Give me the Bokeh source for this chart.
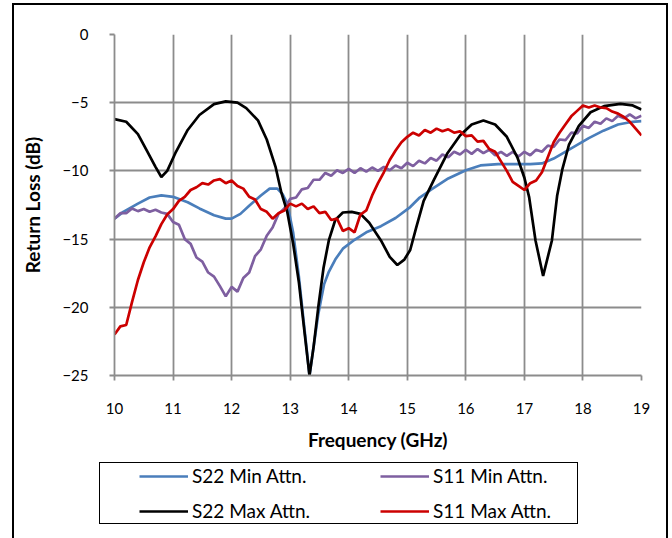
from bokeh.plotting import figure
from bokeh.layouts import column
from bokeh.models import Range1d, Legend, LegendItem, FixedTicker, InlineStyleSheet
from bokeh.embed import file_html
from bokeh.resources import INLINE

# ---------------- data ----------------
x_ticks = [10, 11, 12, 13, 14, 15, 16, 17, 18, 19]
y_ticks = [-25, -20, -15, -10, -5, 0]

freq_s22_min = [10.0, 10.15, 10.4, 10.6, 10.8, 11.0, 11.25, 11.45, 11.7, 11.9, 12.0, 12.15, 12.3, 12.5,
                12.65, 12.78, 12.87, 12.95, 13.05, 13.15, 13.25, 13.33, 13.4, 13.48, 13.53, 13.58, 13.66,
                13.77, 13.9, 14.1, 14.3, 14.55, 14.8, 15.05, 15.2, 15.4, 15.7, 16.0, 16.25, 16.55, 16.8,
                17.1, 17.3, 17.5, 17.8, 18.1, 18.35, 18.6, 18.85, 19.0]
s22_min = [-13.5, -13.0, -12.4, -11.95, -11.8, -11.9, -12.3, -12.75, -13.25, -13.5, -13.5, -13.15, -12.55,
           -11.8, -11.3, -11.3, -11.7, -12.4, -14.5, -17.8, -21.8, -25.0, -22.9, -20.5, -19.4, -18.3, -17.4,
           -16.5, -15.7, -15.05, -14.5, -14.05, -13.45, -12.65, -12.0, -11.4, -10.55, -9.95, -9.6, -9.5,
           -9.5, -9.5, -9.45, -9.1, -8.35, -7.6, -7.05, -6.6, -6.4, -6.35]

freq_s22_max = [10.0, 10.2, 10.4, 10.55, 10.7, 10.8, 10.9, 11.05, 11.25, 11.45, 11.7, 11.9, 12.1, 12.25,
                12.45, 12.6, 12.75, 12.85, 12.95, 13.05, 13.15, 13.25, 13.33, 13.4, 13.48, 13.57, 13.66,
                13.77, 13.9, 14.05, 14.2, 14.35, 14.55, 14.7, 14.83, 14.95, 15.05, 15.15, 15.28, 15.45,
                15.68, 15.9, 16.1, 16.3, 16.5, 16.7, 16.88, 17.0, 17.08, 17.19, 17.32, 17.47, 17.56, 17.65,
                17.76, 17.93, 18.13, 18.36, 18.64, 18.85, 19.0]
s22_max = [-6.2, -6.4, -7.3, -8.5, -9.7, -10.45, -10.0, -8.6, -7.0, -5.9, -5.1, -4.9, -5.0, -5.4,
           -6.3, -7.7, -9.7, -11.6, -13.0, -15.3, -18.2, -22.0, -25.0, -22.9, -20.0, -17.1, -15.1,
           -13.6, -13.05, -13.0, -13.15, -13.8, -15.1, -16.3, -16.9, -16.5, -15.8, -14.2, -12.2, -10.7,
           -8.75, -7.4, -6.6, -6.3, -6.6, -7.5, -9.0, -10.5, -11.9, -15.1, -17.7, -15.1, -11.8, -9.85,
           -8.1, -6.7, -5.7, -5.25, -5.08, -5.2, -5.5]

freq_s11 = [10.0, 10.1, 10.2, 10.3, 10.4, 10.5, 10.6, 10.7, 10.8, 10.9, 11.0, 11.1, 11.2, 11.3, 11.4,
            11.5, 11.6, 11.7, 11.8, 11.9, 12.0, 12.1, 12.2, 12.3, 12.4, 12.5, 12.6, 12.7, 12.8, 12.9,
            13.0, 13.1, 13.2, 13.3, 13.4, 13.5, 13.6, 13.7, 13.8, 13.9, 14.0, 14.1, 14.2, 14.3, 14.4,
            14.5, 14.6, 14.7, 14.8, 14.9, 15.0, 15.1, 15.2, 15.3, 15.4, 15.5, 15.6, 15.7, 15.8, 15.9,
            16.0, 16.1, 16.2, 16.3, 16.4, 16.5, 16.6, 16.7, 16.8, 16.9, 17.0, 17.1, 17.2, 17.3, 17.4,
            17.5, 17.6, 17.7, 17.8, 17.9, 18.0, 18.1, 18.2, 18.3, 18.4, 18.5, 18.6, 18.7, 18.8, 18.9,
            19.0]
s11_min = [-13.5, -13.1, -13.1, -12.75, -12.95, -12.8, -13.0, -12.85, -13.05, -13.15, -13.75, -13.95,
           -15.0, -15.35, -16.35, -16.65, -17.45, -17.75, -18.45, -19.2, -18.5, -18.85, -17.85, -17.45,
           -16.25, -15.75, -14.75, -14.15, -13.15, -12.75, -12.05, -11.95, -11.35, -11.25, -10.65,
           -10.65, -10.15, -10.35, -9.95, -10.15, -9.85, -10.15, -9.8, -10.05, -9.75, -10.0, -9.7,
           -9.95, -9.6, -9.8, -9.4, -9.65, -9.25, -9.45, -9.05, -9.25, -8.8, -9.0, -8.6, -8.8, -8.45,
           -8.75, -8.4, -8.7, -8.45, -8.85, -8.6, -8.9, -8.6, -8.95, -8.6, -8.85, -8.45, -8.6, -8.15,
           -8.25, -7.7, -7.75, -7.2, -7.25, -6.7, -6.85, -6.4, -6.55, -6.15, -6.35, -5.95, -6.15, -5.85,
           -6.15, -5.95]
s11_max = [-22.0, -21.4, -21.3, -19.6, -18.0, -16.7, -15.6, -14.8, -13.9, -13.2, -12.8, -12.2, -11.9,
           -11.4, -11.2, -10.9, -11.0, -10.7, -10.6, -10.9, -10.7, -11.1, -11.3, -11.9, -12.1, -12.8,
           -13.0, -13.5, -13.1, -12.9, -12.4, -12.6, -12.4, -12.8, -12.6, -13.1, -13.0, -13.6, -13.5,
           -14.4, -14.2, -14.5, -13.2, -12.9, -11.8, -10.9, -10.1, -9.2, -8.5, -7.9, -7.5, -7.2, -7.4,
           -7.0, -7.2, -6.9, -7.1, -6.95, -7.2, -7.1, -7.45, -7.4, -7.85, -7.8, -8.4, -8.6, -9.3, -10.0,
           -10.8, -11.1, -11.4, -10.9, -10.7, -10.1, -9.0, -7.9, -7.2, -6.6, -6.0, -5.6, -5.2, -5.35,
           -5.2, -5.35, -5.4, -5.65, -5.8, -6.05, -6.4, -6.9, -7.4]

names = ["S22 Min Attn.", "S11 Min Attn.", "S22 Max Attn.", "S11 Max Attn."]
colors = ["#4A7EBB", "#7E5FA0", "#000000", "#CC0000"]

FONT = "Lato"
GRID = "#8C8C8C"
LW = 2.7

# outer chart border and legend box drawn as page decoration
css = """
:host { position: relative; }
:host::after { content: ""; position: absolute; left: 12px; top: 3px; width: 656px; height: 535px;
  box-sizing: border-box; border: 2px solid #000; border-bottom: none; pointer-events: none; z-index: 5; }
:host::before { content: ""; position: absolute; left: 99px; top: 462px; width: 479px; height: 62px;
  box-sizing: border-box; border: 1px solid #000; pointer-events: none; z-index: 5; }
"""

p = figure(frame_width=527, frame_height=341,
           min_border_left=114, min_border_right=31, min_border_top=34, min_border_bottom=80,
           x_range=Range1d(10, 19), y_range=Range1d(-25, 0),
           output_backend="svg", toolbar_location=None)
p.outline_line_color = None
p.background_fill_color = "white"
p.border_fill_color = "white"

for ax in (p.xaxis[0], p.yaxis[0]):
    ax.axis_line_color = GRID
    ax.axis_line_width = 1.8
    ax.major_tick_line_color = GRID
    ax.major_tick_line_width = 1.8
    ax.major_tick_in = 0
    ax.major_tick_out = 5
    ax.minor_tick_line_color = None
    ax.major_label_text_font = FONT
    ax.major_label_text_font_size = "15px"
    ax.major_label_text_color = "#000000"
    ax.axis_label_text_font = FONT
    ax.axis_label_text_font_size = "19px"
    ax.axis_label_text_font_style = "bold"
    ax.axis_label_text_color = "#000000"

p.xaxis[0].ticker = FixedTicker(ticks=x_ticks)
p.yaxis[0].ticker = FixedTicker(ticks=y_ticks)
p.xaxis[0].axis_label = "Frequency (GHz)"
p.yaxis[0].axis_label = "Return Loss (dB)"
p.xaxis[0].major_label_standoff = 22
p.yaxis[0].major_label_standoff = 21
p.xaxis[0].axis_label_standoff = 11
p.yaxis[0].axis_label_standoff = 15

p.xgrid[0].ticker = FixedTicker(ticks=x_ticks)
p.ygrid[0].ticker = FixedTicker(ticks=y_ticks)
for g in (p.xgrid[0], p.ygrid[0]):
    g.grid_line_color = GRID
    g.grid_line_width = 1.8

series = [(freq_s22_min, s22_min), (freq_s11, s11_min), (freq_s22_max, s22_max), (freq_s11, s11_max)]
for (fx, fy), c in zip(series, colors):
    p.line(fx, fy, line_color=c, line_width=LW)

# legend panel below the chart; its key lines reuse the series data, which lies outside
# this panel's (0..1) view so only the legend keys show
pl = figure(width=672, height=83, min_border=0, x_range=Range1d(0, 1), y_range=Range1d(0, 1),
            output_backend="svg", toolbar_location=None, x_axis_location=None, y_axis_location=None)
pl.outline_line_color = None
pl.xgrid.visible = False
pl.ygrid.visible = False
pl.background_fill_color = "white"
pl.border_fill_color = "white"
key_renderers = [pl.line(fx, fy, line_color=c, line_width=LW) for (fx, fy), c in zip(series, colors)]

legend = Legend(items=[LegendItem(label=n, renderers=[r]) for n, r in zip(names, key_renderers)],
                orientation="horizontal", nrows=2,
                location=(25, 16),
                padding=0, margin=0, spacing=12,
                glyph_width=49, glyph_height=20, label_height=20, label_standoff=4,
                label_width=176,
                label_text_font=FONT, label_text_font_size="19px", label_text_color="#000000",
                border_line_color=None, background_fill_alpha=0)
pl.add_layout(legend, "center")

layout = column(p, pl, spacing=0, stylesheets=[InlineStyleSheet(css=css)])

open("out.html", "w").write(file_html(layout, INLINE))
